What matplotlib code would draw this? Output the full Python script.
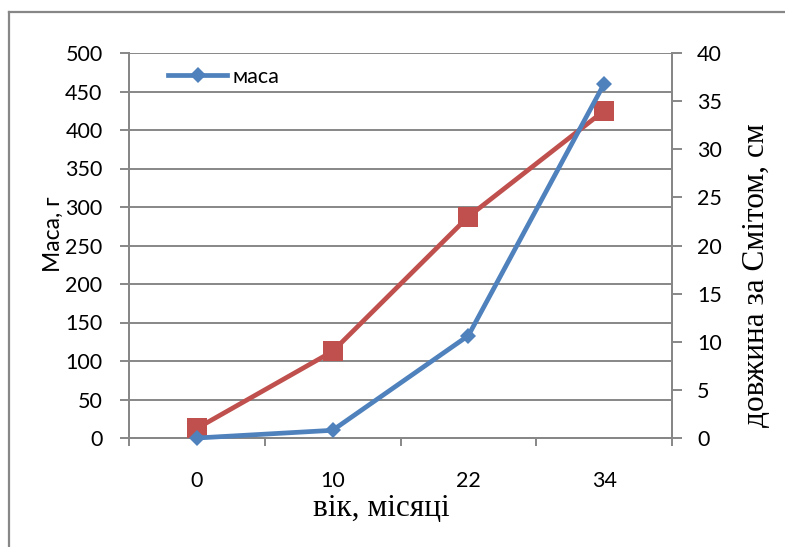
import matplotlib
matplotlib.use("Agg")
import matplotlib.pyplot as plt
from matplotlib.lines import Line2D

# Data
ages = ["0", "10", "22", "34"]
mass_g = [0, 10, 133, 460]
length_cm = [1, 9, 23, 34]

mass_ticks = [0, 50, 100, 150, 200, 250, 300, 350, 400, 450, 500]
length_ticks = [0, 5, 10, 15, 20, 25, 30, 35, 40]

BLUE = "#4F81BD"
RED = "#C0504D"
GREY = "#878787"
SANS = "Lato"
SERIF = "Liberation Serif"

W, H = 785, 547
fig = plt.figure(figsize=(W / 100, H / 100), dpi=100)


def fx(px):
    return px / W


def fy(py):
    return 1 - py / H


# chart-area border (left and top edges)
fig.add_artist(Line2D([fx(9), fx(9)], [0, fy(12)], color=GREY, lw=1.6))
fig.add_artist(Line2D([fx(9), 1], [fy(12), fy(12)], color=GREY, lw=1.6))

ax = fig.add_axes([fx(129), fy(438), fx(672) - fx(129), fy(53) - fy(438)])
ax2 = ax.twinx()

x = list(range(len(ages)))
ax.set_xlim(-0.5, len(ages) - 0.5)
ax.set_ylim(0, 500)
ax2.set_ylim(0, 40)

# gridlines on the primary axis
ax.set_yticks(mass_ticks)
ax.yaxis.grid(True, color=GREY, lw=1.4)
ax.set_axisbelow(True)

# category labels at centres, tick marks at boundaries
ax.set_xticks(x)
ax.set_xticklabels(ages)
ax.set_xticks([i - 0.5 for i in range(len(ages) + 1)], minor=True)
ax.tick_params(axis="x", which="major", length=0, pad=24,
               labelsize=15.5, labelfontfamily=SANS)
ax.tick_params(axis="x", which="minor", length=6, width=1.4,
               color=GREY, direction="out")
ax.tick_params(axis="y", length=6.5, width=1.4, color=GREY,
               pad=12.5, labelsize=15.5, labelfontfamily=SANS)

ax2.set_yticks(length_ticks)
ax2.tick_params(axis="y", length=7, width=1.4, color=GREY,
                pad=11, labelsize=15.5, labelfontfamily=SANS)

for a in (ax, ax2):
    a.spines["top"].set_visible(False)
    for s in ("left", "right", "bottom"):
        a.spines[s].set_color(GREY)
        a.spines[s].set_linewidth(1.4)

for t in ax.get_yticklabels():
    t.set_bbox(dict(facecolor="white", edgecolor="none", pad=0.5))

# series: length on the right scale, mass on the left scale (drawn on top)
ax2.plot(x, length_cm, color=RED, lw=3.4, marker="s", ms=14.5,
         markeredgewidth=0, zorder=3, clip_on=False)
mass_line, = ax2.plot(x, mass_g, color=BLUE, lw=3.4, marker="D", ms=8.5,
                      markeredgewidth=0, zorder=4, clip_on=False,
                      transform=ax.transData)

ax2.legend([mass_line], ["маса"], loc="center left",
           bbox_to_anchor=((168 - 129) / 543, (438 - 77) / 385),
           frameon=False, borderpad=0, borderaxespad=0,
           handlelength=2.75, handletextpad=0.25,
           prop={"family": SANS, "size": 15.5})

# axis titles
fig.text(fx(53), fy(234), "Маса, г", rotation=90, ha="center", va="center",
         family=SANS, fontsize=16.5, zorder=-1)
fig.text(fx(381), fy(509), "вік, місяці", ha="center", va="center",
         family=SERIF, fontsize=22.5)
fig.text(fx(757), fy(275), "довжина за Смітом, см", rotation=90,
         ha="center", va="center", family=SERIF, fontsize=22.5)

fig.savefig("out.png", dpi=100)
